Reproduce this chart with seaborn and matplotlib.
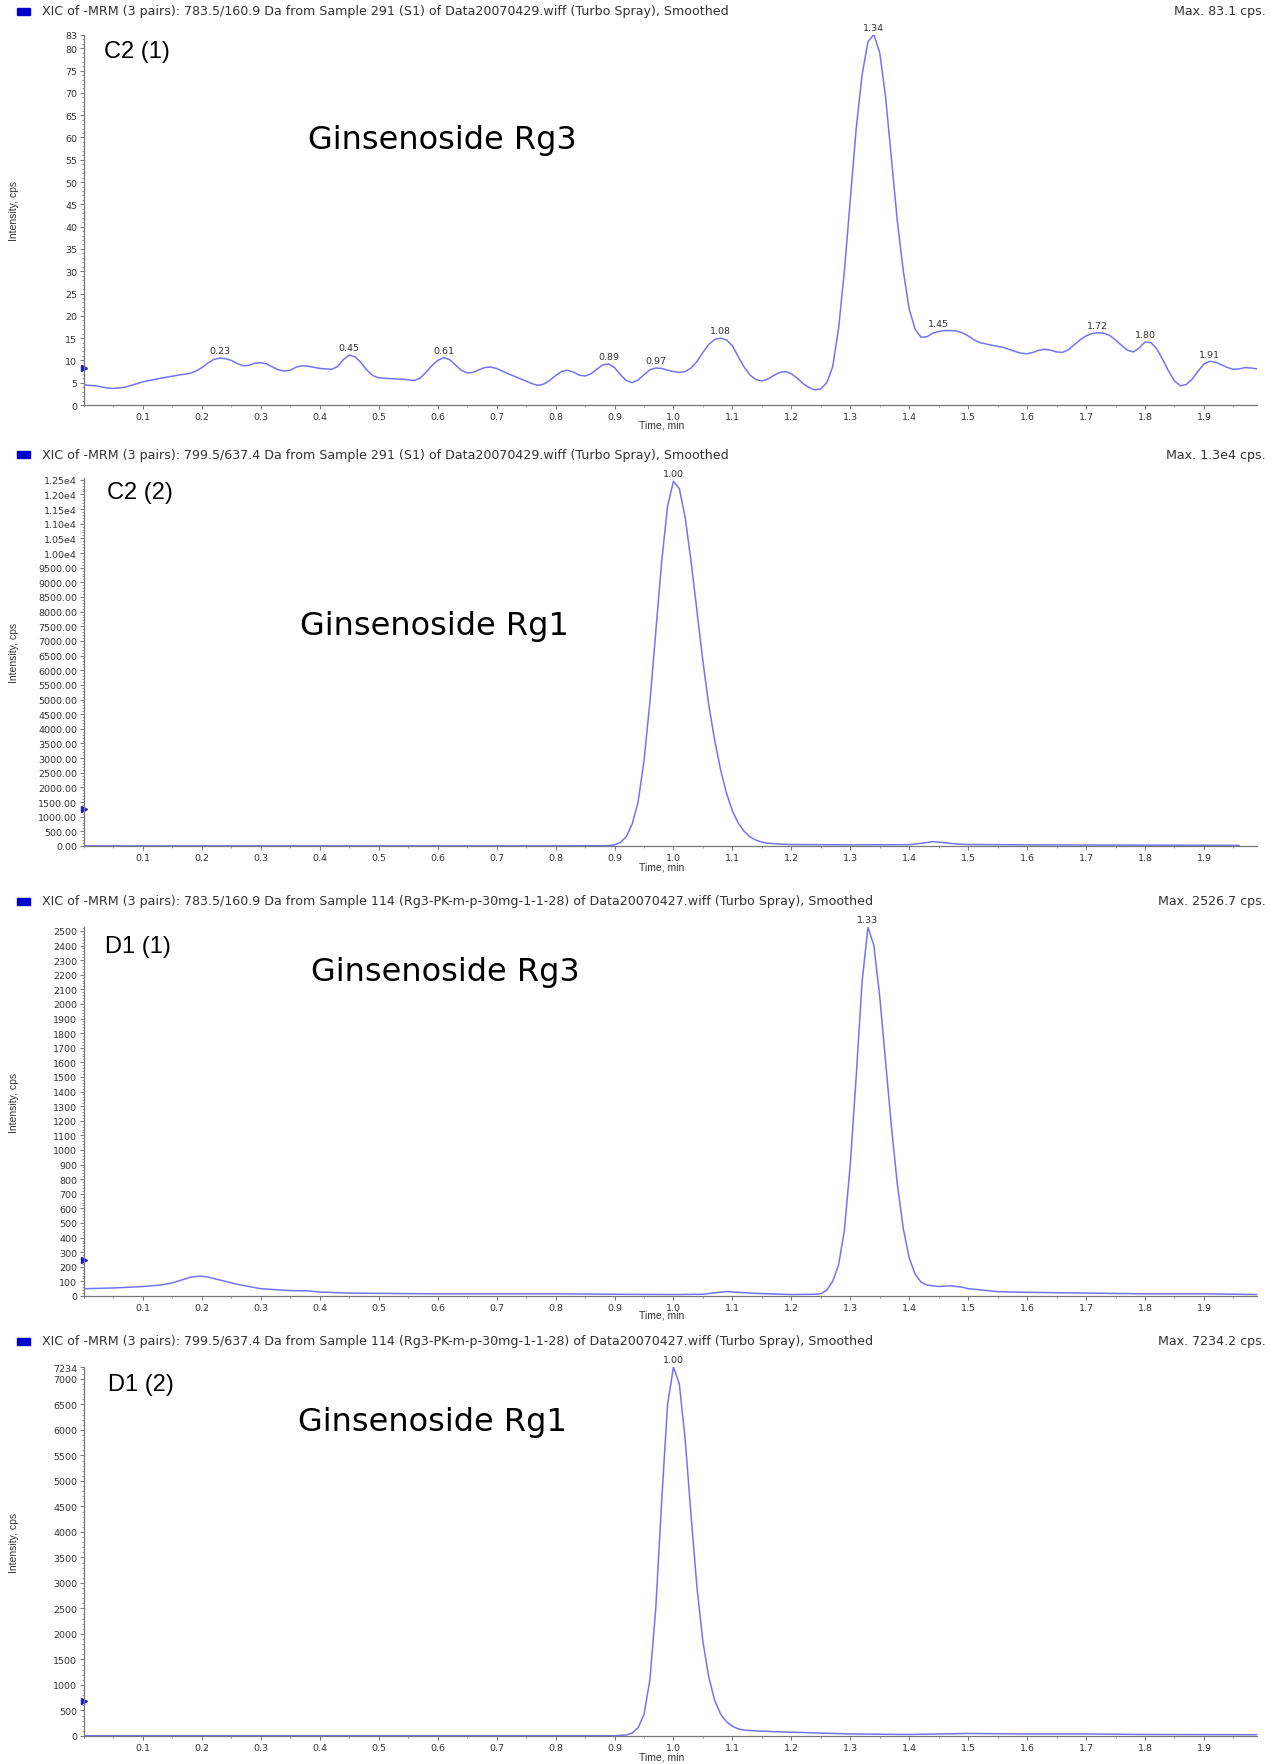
import numpy as np
import pandas as pd
import matplotlib
matplotlib.use("Agg")
import matplotlib.pyplot as plt
import seaborn as sns
from matplotlib.patches import Rectangle
from matplotlib.ticker import FixedLocator, MultipleLocator, FuncFormatter

# ---------------- data ----------------
headers = [
    "XIC of -MRM (3 pairs): 783.5/160.9 Da from Sample 291 (S1) of Data20070429.wiff (Turbo Spray), Smoothed",
    "XIC of -MRM (3 pairs): 799.5/637.4 Da from Sample 291 (S1) of Data20070429.wiff (Turbo Spray), Smoothed",
    "XIC of -MRM (3 pairs): 783.5/160.9 Da from Sample 114 (Rg3-PK-m-p-30mg-1-1-28) of Data20070427.wiff (Turbo Spray), Smoothed",
    "XIC of -MRM (3 pairs): 799.5/637.4 Da from Sample 114 (Rg3-PK-m-p-30mg-1-1-28) of Data20070427.wiff (Turbo Spray), Smoothed",
]
max_labels = ["Max. 83.1 cps.", "Max. 1.3e4 cps.", "Max. 2526.7 cps.", "Max. 7234.2 cps."]
panel_labels = ["C2 (1)", "C2 (2)", "D1 (1)", "D1 (2)"]
compound_labels = ["Ginsenoside Rg3", "Ginsenoside Rg1", "Ginsenoside Rg3", "Ginsenoside Rg1"]

t1 = [0.00, 0.02, 0.04, 0.05, 0.07, 0.10, 0.13, 0.16, 0.18, 0.19, 0.20, 0.21, 0.22, 0.23, 0.24,
      0.25, 0.26, 0.27, 0.28, 0.29, 0.30, 0.31, 0.32, 0.33, 0.34, 0.35, 0.36, 0.37, 0.38, 0.40,
      0.42, 0.43, 0.44, 0.45, 0.46, 0.47, 0.48, 0.49, 0.50, 0.52, 0.54, 0.56, 0.57, 0.58, 0.59,
      0.60, 0.61, 0.62, 0.63, 0.64, 0.65, 0.66, 0.67, 0.68, 0.69, 0.70, 0.72, 0.74, 0.76, 0.77,
      0.78, 0.79, 0.80, 0.81, 0.82, 0.83, 0.84, 0.85, 0.86, 0.87, 0.88, 0.89, 0.90, 0.91, 0.92,
      0.93, 0.94, 0.95, 0.96, 0.97, 0.98, 0.99, 1.00, 1.01, 1.02, 1.03, 1.04, 1.05, 1.06, 1.07,
      1.08, 1.09, 1.10, 1.11, 1.12, 1.13, 1.14, 1.15, 1.16, 1.17, 1.18, 1.19, 1.20, 1.21, 1.22,
      1.23, 1.24, 1.25, 1.26, 1.27, 1.28, 1.29, 1.30, 1.31, 1.32, 1.33, 1.34, 1.35, 1.36, 1.37,
      1.38, 1.39, 1.40, 1.41, 1.42, 1.43, 1.44, 1.45, 1.46, 1.47, 1.48, 1.49, 1.50, 1.51, 1.52,
      1.54, 1.56, 1.58, 1.59, 1.60, 1.61, 1.62, 1.63, 1.64, 1.65, 1.66, 1.67, 1.68, 1.69, 1.70,
      1.71, 1.72, 1.73, 1.74, 1.75, 1.76, 1.77, 1.78, 1.79, 1.80, 1.81, 1.82, 1.83, 1.84, 1.85,
      1.86, 1.87, 1.88, 1.89, 1.90, 1.91, 1.92, 1.93, 1.94, 1.95, 1.96, 1.97, 1.98, 1.99]
y1 = [4.5, 4.3, 3.8, 3.7, 4.0, 5.2, 6.0, 6.7, 7.1, 7.6, 8.4, 9.4, 10.2, 10.5, 10.4,
      10.0, 9.3, 8.8, 8.9, 9.4, 9.5, 9.2, 8.5, 7.9, 7.6, 7.8, 8.5, 8.8, 8.7, 8.2,
      8.0, 8.6, 10.2, 11.2, 10.8, 9.5, 7.8, 6.6, 6.1, 5.9, 5.8, 5.5, 6.0, 7.3, 8.8,
      10.0, 10.6, 10.2, 9.0, 7.8, 7.2, 7.3, 7.9, 8.4, 8.5, 8.2, 7.0, 5.9, 4.8, 4.4,
      4.7, 5.5, 6.6, 7.5, 7.8, 7.4, 6.7, 6.5, 7.0, 8.0, 9.0, 9.2, 8.4, 6.8, 5.5,
      5.0, 5.6, 6.8, 7.9, 8.3, 8.2, 7.8, 7.5, 7.3, 7.5, 8.3, 9.8, 11.8, 13.6, 14.7,
      15.0, 14.6, 13.3, 10.8, 8.5, 6.7, 5.7, 5.4, 5.8, 6.6, 7.3, 7.5, 7.0, 6.0, 4.8,
      3.9, 3.4, 3.6, 5.0, 8.5, 17.0, 30.0, 46.0, 62.0, 74.0, 81.5, 83.1, 79.0, 69.0, 55.0,
      41.0, 30.0, 21.5, 17.0, 15.2, 15.3, 16.1, 16.5, 16.7, 16.7, 16.6, 16.2, 15.5, 14.6, 14.0,
      13.4, 12.9, 12.0, 11.6, 11.5, 11.8, 12.3, 12.5, 12.3, 11.9, 11.8, 12.4, 13.5, 14.6, 15.5,
      16.0, 16.2, 16.1, 15.6, 14.6, 13.4, 12.3, 11.9, 12.8, 14.1, 14.0, 12.6, 10.2, 7.6, 5.4,
      4.3, 4.6, 5.8, 7.6, 9.2, 9.8, 9.6, 9.0, 8.4, 8.0, 8.1, 8.4, 8.3, 8.1]
peaks1 = [0.23, 0.45, 0.61, 0.89, 0.97, 1.08, 1.34, 1.45, 1.72, 1.80, 1.91]
peakvals1 = [10.5, 11.3, 10.6, 9.2, 8.3, 15.0, 83.1, 16.7, 16.2, 14.1, 9.8]

t2 = [0.00, 0.20, 0.40, 0.60, 0.80, 0.88, 0.89, 0.90, 0.91, 0.92, 0.93, 0.94, 0.95, 0.96, 0.97,
      0.98, 0.99, 1.00, 1.01, 1.02, 1.03, 1.04, 1.05, 1.06, 1.07, 1.08, 1.09, 1.10, 1.11, 1.12,
      1.13, 1.14, 1.15, 1.16, 1.18, 1.20, 1.30, 1.40, 1.42, 1.44, 1.46, 1.48, 1.50, 1.60, 1.80, 1.96]
y2 = [5, 5, 5, 5, 5, 8, 15, 40, 120, 320, 750, 1500, 2900, 4900, 7300,
      9700, 11600, 12450, 12200, 11200, 9700, 8000, 6300, 4800, 3600, 2600, 1800, 1200, 780, 500,
      310, 200, 130, 95, 65, 50, 40, 45, 90, 150, 110, 70, 50, 40, 30, 20]
peaks2 = [1.00]
peakvals2 = [12450]

t3 = [0.00, 0.05, 0.10, 0.13, 0.15, 0.17, 0.18, 0.19, 0.20, 0.21, 0.22, 0.24, 0.26, 0.30, 0.35,
      0.38, 0.40, 0.45, 0.50, 0.60, 0.70, 0.80, 0.90, 1.00, 1.05, 1.07, 1.09, 1.11, 1.14, 1.20,
      1.24, 1.25, 1.26, 1.27, 1.28, 1.29, 1.30, 1.31, 1.32, 1.33, 1.34, 1.35, 1.36, 1.37, 1.38,
      1.39, 1.40, 1.41, 1.42, 1.43, 1.45, 1.47, 1.49, 1.50, 1.55, 1.60, 1.70, 1.80, 1.90, 1.99]
y3 = [50, 55, 65, 75, 90, 115, 128, 134, 135, 130, 120, 100, 80, 50, 37,
      35, 27, 20, 18, 15, 15, 15, 12, 10, 12, 22, 30, 25, 18, 10,
      12, 15, 40, 100, 210, 450, 900, 1500, 2150, 2526, 2400, 2050, 1600, 1150, 760,
      460, 260, 150, 95, 75, 65, 70, 60, 50, 30, 25, 20, 15, 15, 10]
peaks3 = [1.33]
peakvals3 = [2526]

t4 = [0.00, 0.20, 0.40, 0.60, 0.80, 0.90, 0.92, 0.93, 0.94, 0.95, 0.96, 0.97, 0.98, 0.99, 1.00,
      1.01, 1.02, 1.03, 1.04, 1.05, 1.06, 1.07, 1.08, 1.09, 1.10, 1.11, 1.12, 1.14, 1.17, 1.20,
      1.30, 1.40, 1.50, 1.60, 1.70, 1.80, 1.99]
y4 = [5, 5, 5, 5, 5, 5, 20, 60, 160, 420, 1100, 2500, 4600, 6500, 7234,
      6900, 5800, 4300, 2900, 1850, 1150, 700, 430, 280, 190, 140, 115, 100, 85, 75,
      40, 30, 50, 40, 40, 30, 25]
peaks4 = [1.00]
peakvals4 = [7234]

threshold_marks = [8.4, 1260, 248, 688]

x_ticks = [0.1, 0.2, 0.3, 0.4, 0.5, 0.6, 0.7, 0.8, 0.9, 1.0, 1.1, 1.2, 1.3, 1.4, 1.5, 1.6, 1.7, 1.8, 1.9]
y_ticks1 = [0, 5, 10, 15, 20, 25, 30, 35, 40, 45, 50, 55, 60, 65, 70, 75, 80, 83]
y_ticks2 = list(range(0, 12501, 500))
y_ticks3 = list(range(0, 2501, 100))
y_ticks4 = list(range(0, 7001, 500)) + [7234]

# ---------------- style ----------------
sns.set_theme(style="ticks")
plt.rcParams["font.family"] = ["DejaVu Sans"]

W, H = 1277, 1765
fig = plt.figure(figsize=(W / 100, H / 100), dpi=100)

LINE = "#7474f2"
TXT = "#333333"
SPINE = "#777777"

def fx(px):
    return px / W

def fy(py):
    return 1 - py / H

panels = [
    dict(t=t1, y=y1, top=35.5, bot=406, ylim=83.1, yt=y_ticks1, minor=1, pk=peaks1, pv=peakvals1,
         fmt=lambda v, p: f"{v:.0f}", hdr=12, lab=(104, 52), comp=(308, 140), xl=425),
    dict(t=t2, y=y2, top=479, bot=847, ylim=12560, yt=y_ticks2, minor=100, pk=peaks2, pv=peakvals2,
         fmt=lambda v, p: (f"{v/1e4:.2f}e4" if v >= 10000 else f"{v:.2f}"), hdr=455, lab=(107, 493),
         comp=(300, 626), xl=868),
    dict(t=t3, y=y3, top=928, bot=1297, ylim=2526.7, yt=y_ticks3, minor=20, pk=peaks3, pv=peakvals3,
         fmt=lambda v, p: f"{v:.0f}", hdr=902, lab=(105, 947), comp=(311, 973), xl=1315),
    dict(t=t4, y=y4, top=1368, bot=1737, ylim=7234.2, yt=y_ticks4, minor=100, pk=peaks4, pv=peakvals4,
         fmt=lambda v, p: f"{v:.0f}", hdr=1342, lab=(108, 1385), comp=(298, 1422), xl=1758),
]

left_px, right_px = 84, 1257
for i, P in enumerate(panels):
    ax = fig.add_axes([fx(left_px), fy(P["bot"]), fx(right_px - left_px), (P["bot"] - P["top"]) / H])
    df = pd.DataFrame({"Time": P["t"], "Intensity": P["y"]})
    sns.lineplot(data=df, x="Time", y="Intensity", ax=ax, color=LINE, linewidth=1.1, sort=False)
    ax.set_xlim(0, 1.99)
    ax.set_ylim(0, P["ylim"])
    ax.set_xlabel("")
    ax.set_ylabel("")
    ax.xaxis.set_major_locator(FixedLocator(x_ticks))
    ax.xaxis.set_major_formatter(FuncFormatter(lambda v, p: f"{v:.1f}"))
    ax.xaxis.set_minor_locator(MultipleLocator(0.05))
    ax.yaxis.set_major_locator(FixedLocator(P["yt"]))
    ax.yaxis.set_major_formatter(FuncFormatter(P["fmt"]))
    ax.yaxis.set_minor_locator(MultipleLocator(P["minor"]))
    for s in ["top", "right"]:
        ax.spines[s].set_visible(False)
    for s in ["left", "bottom"]:
        ax.spines[s].set_color(SPINE)
        ax.spines[s].set_linewidth(0.9)
    ax.tick_params(axis="both", which="major", direction="out", length=3, width=0.7,
                   color=SPINE, labelsize=6.8, labelcolor=TXT, pad=2)
    ax.tick_params(axis="both", which="minor", direction="out", length=1.5, width=0.5, color=SPINE)
    ax.set_facecolor("white")
    # peak labels
    for pt, pv in zip(P["pk"], P["pv"]):
        ax.annotate(f"{pt:.2f}", xy=(pt, pv), xytext=(0, 2), textcoords="offset points",
                    ha="center", va="bottom", fontsize=6.8, color=TXT, annotation_clip=False)
    # threshold marker at left axis
    ax.plot([0], [threshold_marks[i]], marker=">", color="#1a1acc", markersize=5,
            clip_on=False, linestyle="none")
    # header
    fig.patches.append(Rectangle((fx(17), fy(P["hdr"] + 4)), fx(13), 7 / H,
                                 transform=fig.transFigure, color="#0000cc"))
    fig.text(fx(42), fy(P["hdr"]), headers[i], fontsize=9.1, color=TXT, va="center", ha="left")
    fig.text(fx(1266), fy(P["hdr"]), max_labels[i], fontsize=9.1, color=TXT, va="center", ha="right")
    # panel label and compound name
    fig.text(fx(P["lab"][0]), fy(P["lab"][1]), panel_labels[i], fontsize=17,
             family=["Liberation Sans", "DejaVu Sans"], color="black", va="center", ha="left")
    fig.text(fx(P["comp"][0]), fy(P["comp"][1]), compound_labels[i], fontsize=23,
             family=["DejaVu Sans"], color="black", va="center", ha="left")
    # axis labels
    fig.text(fx(662), fy(P["xl"]), "Time, min", fontsize=7.5,
             family=["Liberation Sans Narrow", "Liberation Sans"], color=TXT, ha="center", va="center")
    fig.text(fx(14), fy((P["top"] + P["bot"]) / 2 - 10), "Intensity, cps", fontsize=7.5, rotation=90,
             family=["Liberation Sans Narrow", "Liberation Sans"], color=TXT, ha="center", va="center")

fig.savefig("out.png", dpi=100, facecolor="white")
